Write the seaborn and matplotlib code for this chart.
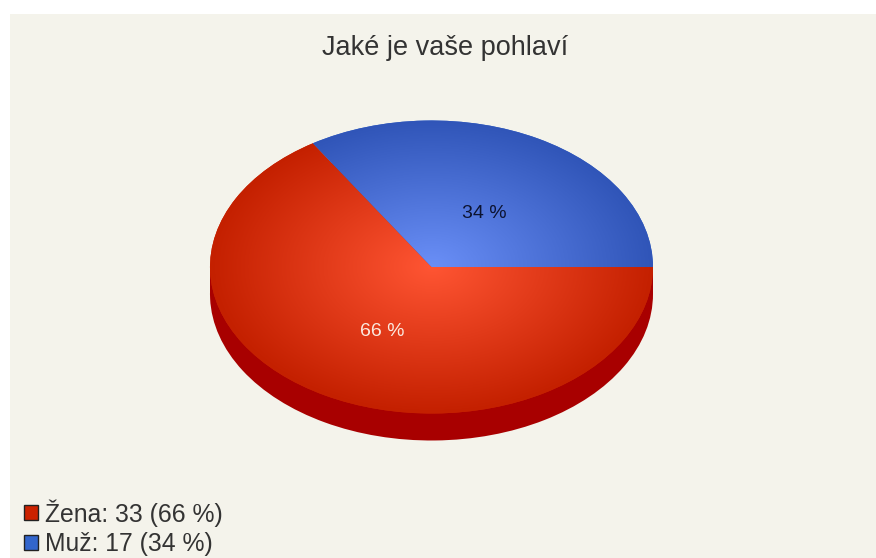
import numpy as np
import matplotlib
matplotlib.use("Agg")
import matplotlib.pyplot as plt
from matplotlib.patches import Patch
from matplotlib.transforms import Affine2D
import seaborn as sns

# data
categories = ["Žena", "Muž"]
counts = [33, 17]
title = "Jaké je vaše pohlaví"

# colours
BG = "#f4f3eb"
TEXT = "#333333"
RED_CMAP = sns.blend_palette(["#ff5533", "#c42000"], as_cmap=True)
BLUE_CMAP = sns.blend_palette(["#6a8ff7", "#3055b8"], as_cmap=True)
SWATCHES = ["#cc2200", "#3366cc"]
SIDE = "#a80000"

# layout, in pixels of the 876x558 picture
W, H = 876, 558
PX_L, PX_T = 10, 14       # panel corner
CX, CY = 431.5, 267       # pie centre
RX, RY = 221.5, 146.5     # ellipse radii
DEPTH = 27                # height of the pie side

sns.set_theme(style="white")
plt.rcParams['font.family'] = ['Liberation Sans', 'DejaVu Sans']

fig = plt.figure(figsize=(W / 100, H / 100), dpi=100, facecolor="white")
ax = fig.add_axes([PX_L / W, 0, (W - PX_L) / W, (H - PX_T) / H])

total = sum(counts)
start = 360 * counts[1] / total

# side of the pie, same slices moved down
side_wedges, _ = ax.pie(counts, startangle=start, colors=[SIDE, SIDE], center=(0, -DEPTH / RY))
for w in side_wedges:
    w.set_linewidth(0)
# the straight part of the side joins both ellipses
ax.fill_between([-1, 1], [0, 0], [-DEPTH / RY, -DEPTH / RY], color=SIDE, linewidth=0, zorder=1)

# top of the pie
wedges, _, pcts = ax.pie(counts, startangle=start, colors=SWATCHES,
                         autopct=lambda p: f"{p:.0f} %", pctdistance=0.47,
                         textprops={"fontsize": 14})
for w in wedges:
    w.set_linewidth(0)
    w.set_zorder(2)
pcts[0].set_color("#fbe9df")
pcts[1].set_color("#0c1330")
for t, (dx, dy) in zip(pcts, [(0.5, -4), (2.5, -7)]):
    t.set_zorder(5)
    t.set_transform(t.get_transform() + Affine2D().translate(dx, dy))

# radial shading clipped to each slice
grid = np.linspace(-1.02, 1.02, 500)
xx, yy = np.meshgrid(grid, grid)
rr = np.hypot(xx, yy)
for w, cmap in zip(wedges, [RED_CMAP, BLUE_CMAP]):
    im = ax.imshow(rr, extent=(-1.02, 1.02, -1.02, 1.02), origin="lower", cmap=cmap,
                   vmin=0, vmax=1, zorder=3, interpolation="bilinear")
    im.set_clip_path(w)

ax.set_aspect("auto")
ax.set_xlim((PX_L - CX) / RX, (W - CX) / RX)
ax.set_ylim((CY - H) / RY, (CY - PX_T) / RY)

# pie() switches the frame off, the panel colour needs it back
ax.set_frame_on(True)
ax.set_facecolor(BG)
ax.set_xticks([])
ax.set_yticks([])
for s in ax.spines.values():
    s.set_visible(False)

fig.text(445 / W, 1 - 48 / H, title, ha="center", va="center", fontsize=19.5, color=TEXT)

handles = [Patch(facecolor=c, edgecolor="#222222", linewidth=1) for c in SWATCHES]
labels = [f"{c}: {n} ({100 * n / total:.0f} %)" for c, n in zip(categories, counts)]
fig.legend(handles, labels, loc="lower left", bbox_to_anchor=(24 / W, 2 / H), frameon=False,
           fontsize=17.8, labelcolor=TEXT, handlelength=0.57, handleheight=0.57,
           handletextpad=0.28, labelspacing=0.22, borderpad=0, borderaxespad=0)

fig.savefig("out.png", dpi=100, facecolor="white")
